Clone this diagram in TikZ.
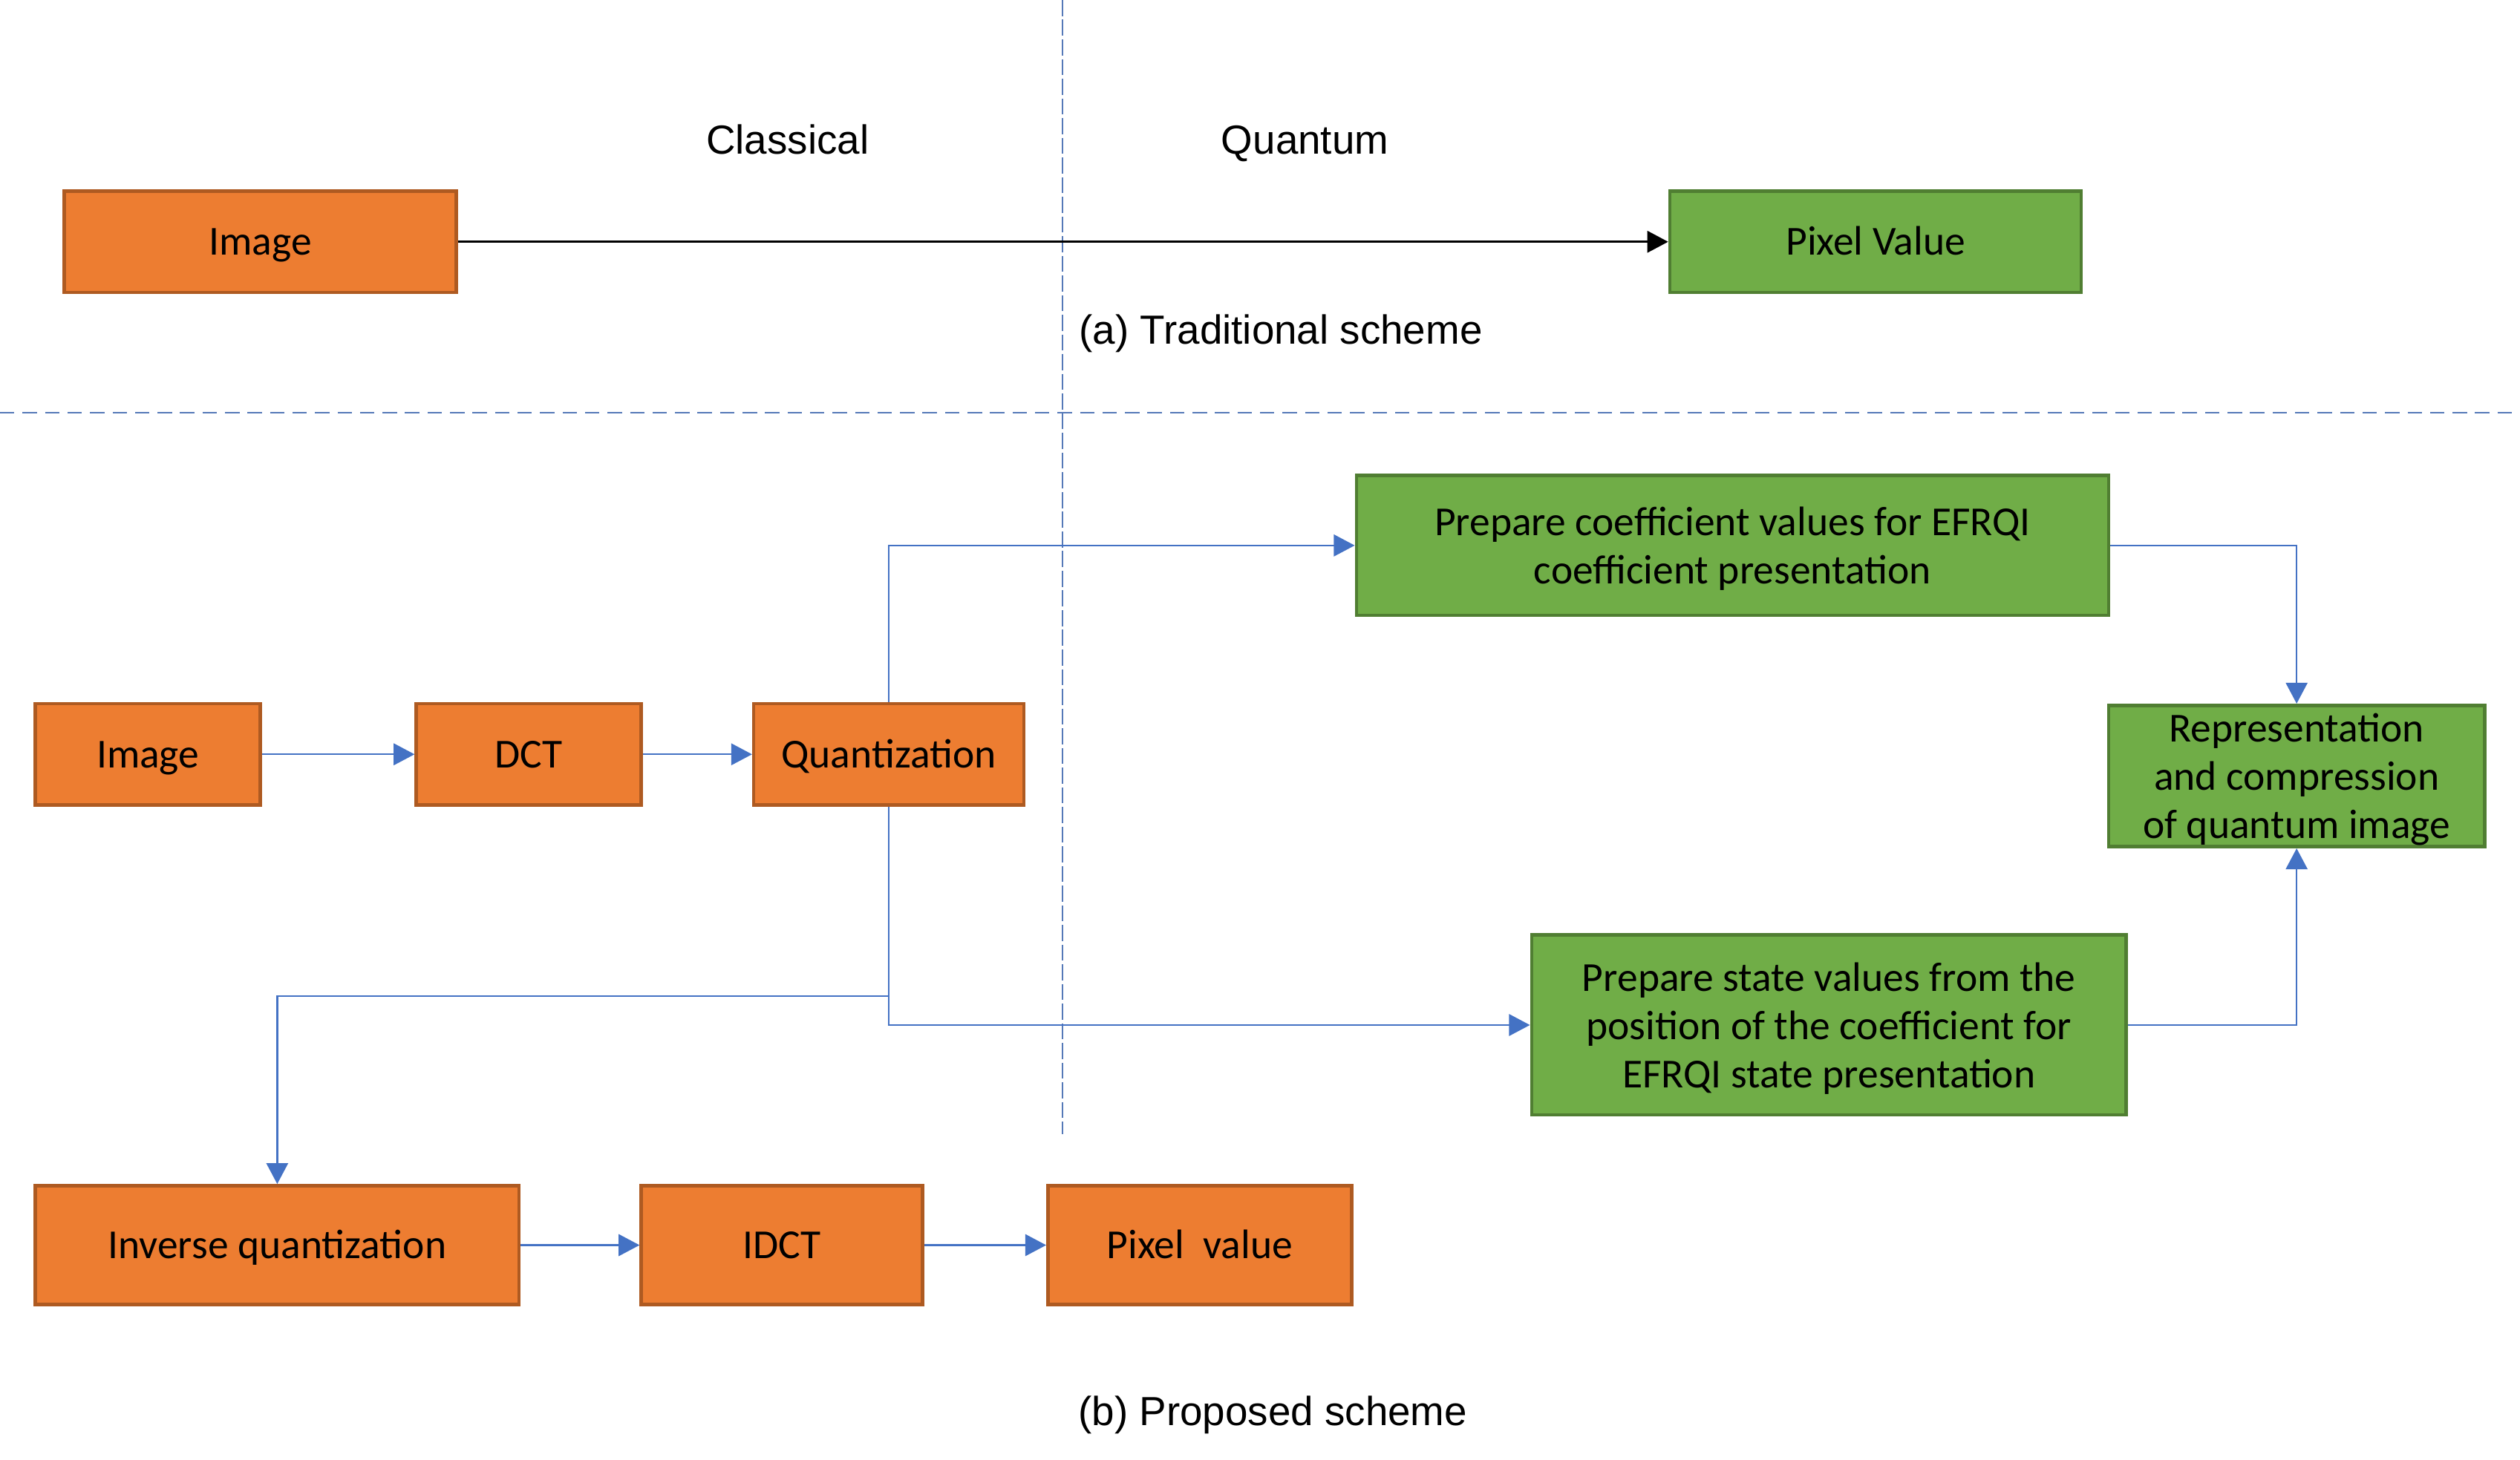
\documentclass[tikz,border=0pt]{standalone}
\usepackage{fontspec}
\setmainfont{Carlito}
\newfontfamily\captionfont{Liberation Sans}
\usetikzlibrary{arrows.meta}

\definecolor{boxorange}{HTML}{ED7D31}
\definecolor{orangeline}{HTML}{AE5A21}
\definecolor{boxgreen}{HTML}{70AD47}
\definecolor{greenline}{HTML}{507E32}
\definecolor{arrowblue}{HTML}{4472C4}
\definecolor{sepblue}{HTML}{5579B8}

\begin{document}
\begin{tikzpicture}[font=\fontsize{14.6}{17.1}\selectfont]
\useasboundingbox (0,0) rectangle (31.36,-18.17);

% separators
\draw[sepblue, line width=0.6pt, dash pattern=on 0.2cm off 0.045cm] (13.22,0) -- (13.22,-14.12);
\draw[sepblue, line width=0.6pt, dash pattern=on 0.18cm off 0.1cm] (0,-5.14) -- (31.36,-5.14);

% definitions
\tikzstyle{classic} = [rectangle, minimum height=1.26cm, inner sep=0pt, text centered, text height=9.4pt, text depth=0pt, draw=orangeline, fill=boxorange, line width=1.2pt]

\tikzstyle{quantum} = [rectangle, minimum height=1.26cm, inner sep=0pt, text centered, align=center, text depth=0pt, draw=greenline, fill=boxgreen, line width=1.2pt]

\tikzstyle{schemelabel} = [font=\captionfont\fontsize{14.4}{17}\selectfont, text height=10.3pt, text depth=0pt]

\tikzstyle{arrow} = [-{Triangle[length=0.26cm,width=0.27cm]}, draw=arrowblue, line width=0.6pt]

\tikzstyle{blackarrow} = [-{Triangle[length=0.26cm,width=0.27cm]}, draw=black, line width=0.7pt]

% labels
\node (lclassic) [schemelabel] at (9.8,-1.74) {Classical};
\node (lquantum) [schemelabel] at (16.24,-1.74) {Quantum};
\node (lcapa) [schemelabel] at (15.94,-4.10) {(a) Traditional scheme};
\node (lcapb) [schemelabel] at (15.84,-17.56) {(b) Proposed scheme};

% traditional scheme
\node (timg) [classic, minimum width=4.88cm] at (3.24,-3.01) {Image};
\node (tpix) [quantum, text height=9.4pt, minimum width=5.12cm] at (23.34,-3.01) {Pixel Value};

\draw [blackarrow] (timg) -- (tpix);

% proposed scheme
\node (pimg) [classic, minimum width=2.8cm] at (1.84,-9.39) {Image};
\node (pdct) [classic, minimum width=2.8cm] at (6.58,-9.39) {DCT};
\node (pquant) [classic, minimum width=3.36cm] at (11.06,-9.39) {Quantization};

\node (pcoef) [quantum, minimum width=9.36cm, minimum height=1.74cm] at (21.56,-6.79) {Prepare coefficient values for EFRQI\\coefficient presentation};
\node (prep) [quantum, minimum width=4.68cm, minimum height=1.76cm] at (28.58,-9.66) {Representation\\and compression\\of quantum image};
\node (pstate) [quantum, minimum width=7.4cm, minimum height=2.24cm] at (22.76,-12.76) {Prepare state values from the\\position of the coefficient for\\EFRQI state presentation};

\node (pinvq) [classic, minimum width=6.02cm, minimum height=1.48cm] at (3.45,-15.5) {Inverse quantization};
\node (pidct) [classic, minimum width=3.5cm, minimum height=1.48cm] at (9.73,-15.5) {IDCT};
\node (ppix) [classic, minimum width=3.78cm, minimum height=1.48cm] at (14.93,-15.5) {Pixel\ \ value};

\coordinate (split) at (11.06,-12.4);

\draw [arrow] (pimg) -- (pdct);
\draw [arrow] (pdct) -- (pquant);

\draw [arrow] (pquant.north) |- (pcoef.west);
\draw [arrow] (pcoef.east) -| (prep.north);

\draw [arrow] (pquant.south) |- (pstate.west);
\draw [arrow] (pquant.south) -- (split) -| (pinvq.north);
\draw [arrow] (pstate.east) -| (prep.south);

\draw [arrow] (pinvq) -- (pidct);
\draw [arrow] (pidct) -- (ppix);

\end{tikzpicture}
\end{document}
